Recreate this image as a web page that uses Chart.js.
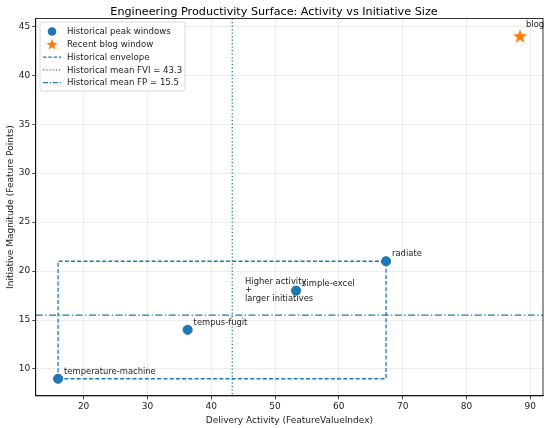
<!DOCTYPE html>
<html>
<head>
<meta charset="utf-8">
<script src="https://cdn.jsdelivr.net/npm/chart.js@4/dist/chart.umd.min.js"></script>
<style>
  html, body { margin: 0; padding: 0; background: #fff; }
  #wrap { width: 550px; height: 428px; position: relative; }
</style>
</head>
<body>
<div id="wrap"><canvas id="chart"></canvas></div>
<script>
// historical peak windows
const projects = ["temperature-machine", "tempus-fugit", "simple-excel", "radiate"];
const fvi = [16.0, 36.3, 53.3, 67.4];
const fp = [9, 14, 18, 21];

// recent blog window
const recentName = "blog";
const recentFvi = 88.4;
const recentFp = 44;

const meanFvi = 43.3;
const meanFp = 15.5;

const xTicks = [20, 30, 40, 50, 60, 70, 80, 90];
const yTicks = [10, 15, 20, 25, 30, 35, 40, 45];

const blue = "#1f77b4";
const orange = "#ff7f0e";
const font = "DejaVu Sans";

// envelope box from the historical extremes
const xLo = Math.min(...fvi), xHi = Math.max(...fvi);
const yLo = Math.min(...fp), yHi = Math.max(...fp);
const envelope = [
  { x: xLo, y: yLo }, { x: xHi, y: yLo }, { x: xHi, y: yHi },
  { x: xLo, y: yHi }, { x: xLo, y: yLo },
];

function drawStar(ctx, cx, cy, r) {
  ctx.beginPath();
  for (let k = 0; k < 10; k++) {
    const rr = k % 2 === 0 ? r : r * 0.42;
    const ang = -Math.PI / 2 + k * Math.PI / 5;
    const px = cx + rr * Math.cos(ang), py = cy + rr * Math.sin(ang);
    if (k === 0) ctx.moveTo(px, py); else ctx.lineTo(px, py);
  }
  ctx.closePath();
  ctx.fill();
}

// star marker image for the recent window
const starImg = document.createElement("canvas");
starImg.width = 16; starImg.height = 16;
(() => {
  const c = starImg.getContext("2d");
  c.fillStyle = orange;
  drawStar(c, 8, 8.6, 7.5);
})();

const extras = {
  id: "extras",
  afterDatasetsDraw(chart) {
    const { ctx, chartArea: a, scales: { x, y } } = chart;
    ctx.save();
    // mean lines
    ctx.strokeStyle = blue;
    ctx.lineWidth = 1.3;
    ctx.setLineDash([1.3, 2.2]);
    ctx.beginPath();
    const mx = x.getPixelForValue(meanFvi);
    ctx.moveTo(mx, a.top); ctx.lineTo(mx, a.bottom);
    ctx.stroke();
    ctx.setLineDash([7, 2.5, 1.3, 2.5]);
    ctx.beginPath();
    const my = y.getPixelForValue(meanFp);
    ctx.moveTo(a.left, my); ctx.lineTo(a.right, my);
    ctx.stroke();
    ctx.setLineDash([]);

    // point labels
    ctx.fillStyle = "#222";
    ctx.font = "8.4px '" + font + "'";
    ctx.textBaseline = "alphabetic";
    ctx.textAlign = "left";
    projects.forEach((p, i) => {
      ctx.fillText(p, x.getPixelForValue(fvi[i]) + 6, y.getPixelForValue(fp[i]) - 5);
    });
    ctx.fillText(recentName, x.getPixelForValue(recentFvi) + 6, y.getPixelForValue(recentFp) - 9);

    // quadrant note
    const nx = x.getPixelForValue(45.3), ny = y.getPixelForValue(18.7);
    ctx.fillText("Higher activity", nx, ny);
    ctx.fillText("+", nx, ny + 8.4);
    ctx.fillText("larger initiatives", nx, ny + 16.8);

    // top/right spines
    ctx.strokeStyle = "#000";
    ctx.lineWidth = 0.8;
    ctx.strokeRect(a.left, a.top, a.right - a.left, a.bottom - a.top);

    // legend
    const lx = 40, ly = 22, lw = 145, lh = 69;
    ctx.fillStyle = "rgba(255,255,255,0.85)";
    ctx.strokeStyle = "#d0d0d0";
    ctx.lineWidth = 0.8;
    ctx.beginPath();
    ctx.roundRect(lx, ly, lw, lh, 2);
    ctx.fill(); ctx.stroke();
    ctx.font = "8.6px '" + font + "'";
    ctx.textBaseline = "middle";
    const rows = [
      { t: "Historical peak windows", k: "dot" },
      { t: "Recent blog window", k: "star" },
      { t: "Historical envelope", k: "line", d: [3.5, 1.8] },
      { t: "Historical mean FVI = 43.3", k: "line", d: [1.2, 2] },
      { t: "Historical mean FP = 15.5", k: "line", d: [5, 1.8, 1.2, 1.8] },
    ];
    rows.forEach((r, i) => {
      const cy = ly + 9.5 + i * 12.8;
      const cx = 52;
      if (r.k === "dot") {
        ctx.fillStyle = blue;
        ctx.beginPath(); ctx.arc(cx, cy, 4.3, 0, Math.PI * 2); ctx.fill();
      } else if (r.k === "star") {
        ctx.fillStyle = orange;
        drawStar(ctx, cx, cy + 0.5, 6);
      } else {
        ctx.strokeStyle = blue;
        ctx.lineWidth = 1.3;
        ctx.setLineDash(r.d);
        ctx.beginPath(); ctx.moveTo(43, cy); ctx.lineTo(61, cy); ctx.stroke();
        ctx.setLineDash([]);
      }
      ctx.fillStyle = "#222";
      ctx.fillText(r.t, 67, cy + 0.5);
    });
    ctx.restore();
  },
};

Chart.defaults.font.family = font;
Chart.defaults.color = "#222";

new Chart(document.getElementById("chart"), {
  type: "scatter",
  data: {
    datasets: [
      {
        label: "Historical peak windows",
        data: fvi.map((v, i) => ({ x: v, y: fp[i] })),
        backgroundColor: blue,
        borderColor: blue,
        pointRadius: 4.6,
        pointHoverRadius: 4.6,
        order: 1,
      },
      {
        label: "Recent blog window",
        data: [{ x: recentFvi, y: recentFp }],
        pointStyle: starImg,
        order: 1,
      },
      {
        label: "Historical envelope",
        type: "line",
        data: envelope,
        borderColor: blue,
        borderWidth: 1.3,
        borderDash: [4, 2.2],
        pointRadius: 0,
        fill: false,
        tension: 0,
        order: 2,
      },
    ],
  },
  options: {
    responsive: true,
    maintainAspectRatio: false,
    animation: false,
    layout: { padding: { left: 5, right: 7, top: 0, bottom: 2 } },
    plugins: {
      legend: { display: false },
      tooltip: { enabled: false },
      title: {
        display: true,
        text: "Engineering Productivity Surface: Activity vs Initiative Size",
        font: { size: 11.2, weight: "normal" },
        color: "#000",
        padding: { top: 5, bottom: 0 },
      },
    },
    scales: {
      x: {
        type: "linear",
        min: 12.5,
        max: 92,
        afterBuildTicks: (s) => { s.ticks = xTicks.map((v) => ({ value: v })); },
        ticks: { font: { size: 9 }, color: "#222", padding: 2 },
        grid: { color: "rgba(0,0,0,0.1)", lineWidth: 0.7, tickColor: "#000", tickLength: 3.5 },
        border: { color: "#000", width: 0.8 },
        title: {
          display: true,
          text: "Delivery Activity (FeatureValueIndex)",
          font: { size: 9 },
          color: "#222",
          padding: { top: 1, bottom: 0 },
        },
      },
      y: {
        type: "linear",
        min: 7.25,
        max: 45.8,
        afterBuildTicks: (s) => { s.ticks = yTicks.map((v) => ({ value: v })); },
        ticks: { font: { size: 9 }, color: "#222", padding: 2 },
        grid: { color: "rgba(0,0,0,0.1)", lineWidth: 0.7, tickColor: "#000", tickLength: 3.5 },
        border: { color: "#000", width: 0.8 },
        title: {
          display: true,
          text: "Initiative Magnitude (Feature Points)",
          font: { size: 9 },
          color: "#222",
          padding: { top: 0, bottom: 1 },
        },
      },
    },
  },
  plugins: [extras],
});
</script>
</body>
</html>
